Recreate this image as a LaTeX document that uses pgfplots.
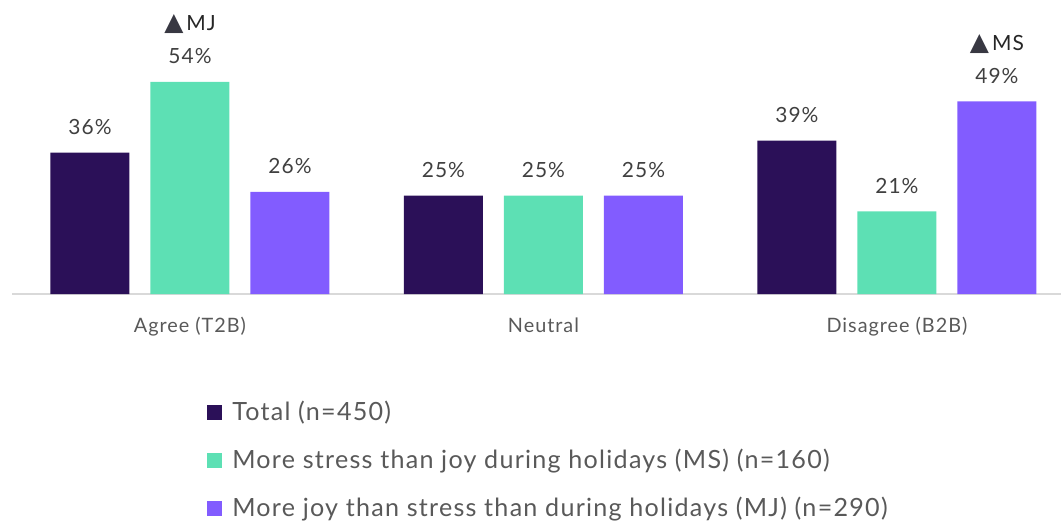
\documentclass[border=0pt]{standalone}
\usepackage{pgfplots}
\pgfplotsset{compat=1.18}
\usepackage{fontspec}
\setmainfont{Lato}[LetterSpace=5]
\newfontfamily\symfont{DejaVu Sans}
\definecolor{c1}{HTML}{2B1058}
\definecolor{c2}{HTML}{5DE0B4}
\definecolor{c3}{HTML}{825CFF}
\definecolor{txt}{HTML}{404040}
\definecolor{tick}{HTML}{595959}
\definecolor{axl}{HTML}{D9D9D9}
\definecolor{tri}{HTML}{383842}
\begin{document}
\begin{tikzpicture}
\begin{axis}[
  at={(12bp,230bp)}, anchor=south west,
  scale only axis, width=1049bp, height=294bp,
  xmin=-0.5035, xmax=2.464, ymin=0, ymax=74.8,
  axis y line=none, axis x line*=bottom,
  x axis line style={draw=axl, line width=1.5bp, -},
  xtick={0,1,2}, xticklabels={Agree (T2B),Neutral,Disagree (B2B)},
  major tick length=0pt,
  /pgf/number format/assume math mode=true,
  xticklabel style={anchor=base, yshift=-38bp, inner sep=0pt, text=tick, font=\fontsize{19.9}{24}\selectfont},
  ybar=21bp, bar width=79bp,
  nodes near coords={\pgfmathprintnumber{\pgfplotspointmeta}\%},
  every node near coord/.append style={anchor=base, yshift=18bp, inner sep=0pt, text=txt, font=\fontsize{21}{25}\selectfont},
  legend style={at={(0.186,-0.367)}, anchor=north west, draw=none, fill=none, inner sep=0pt,
    font=\fontsize{25.2}{28}\selectfont, text=tick, row sep=24bp, column sep=10bp,
    nodes={inner sep=0pt, text height=18bp, text depth=6bp}},
  legend cell align=left,
  legend image code/.code={\path[#1] (0bp,-6bp) rectangle (15bp,9bp);},
  clip=false,
]
\addplot[fill=c1, draw=none] coordinates {(0,36) (1,25) (2,39)};
\addplot[fill=c2, draw=none] coordinates {(0,54) (1,25) (2,21)};
\addplot[fill=c3, draw=none] coordinates {(0,26) (1,25) (2,49)};
\legend{Total (n=450),More stress than joy during holidays (MS) (n=160),More joy than stress than during holidays (MJ) (n=290)}
\node[anchor=base, inner sep=0pt, yshift=51bp, text=txt, font=\fontsize{21}{25}\selectfont] at (axis cs:0,54) {{\symfont\color{tri}\fontsize{25}{27}\selectfont ▲}\hspace{3bp}{\color{black!85}MJ}};
\node[anchor=base, inner sep=0pt, yshift=51bp, xshift=100bp, text=txt, font=\fontsize{21}{25}\selectfont] at (axis cs:2,49) {{\symfont\color{tri}\fontsize{25}{27}\selectfont ▲}\hspace{3bp}{\color{black!85}MS}};
\end{axis}
\pgfresetboundingbox
\path[use as bounding box] (0,0) rectangle (1061bp,524bp);
\end{tikzpicture}
\end{document}
